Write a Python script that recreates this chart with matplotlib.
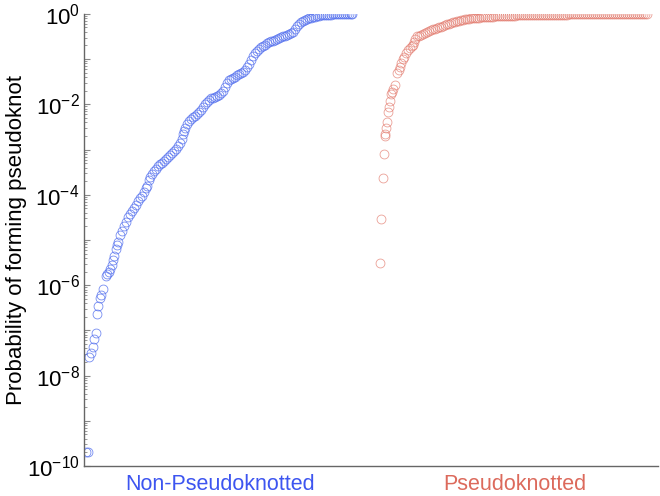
import numpy as np
import matplotlib.pyplot as plt
from matplotlib.ticker import LogLocator, FuncFormatter, NullFormatter

plt.rcParams['font.family'] = ['Liberation Sans', 'DejaVu Sans']
plt.rcParams['mathtext.fontset'] = 'custom'
plt.rcParams['mathtext.rm'] = 'Liberation Sans'

# sorted rank of each sample (x) and log10 of the probability (y)
non_pk_rank = ([86, 88, 89, 91, 93, 94, 96, 97, 98, 100, 101, 103, 106, 107, 109, 110, 112, 113, 114, 116,
                117, 118, 120, 122, 124, 126, 128, 130, 132, 134, 136, 138, 140, 142, 144, 146, 147, 149, 150, 152,
                154, 156, 158, 160, 162, 164, 166, 168, 170, 172, 174, 176, 178, 180, 182, 183, 184, 185, 187, 189]
               + list(range(191, 352, 2)) + [352])
non_pk_log = [-9.69, -9.69, -7.59, -7.50, -7.37, -7.19, -7.06, -6.64, -6.46, -6.28,
              -6.22, -6.08, -5.80, -5.75, -5.70, -5.64, -5.55, -5.45, -5.35, -5.20,
              -5.12, -5.04, -4.90, -4.80, -4.70, -4.60, -4.50, -4.42, -4.36, -4.30,
              -4.22, -4.14, -4.08, -4.02, -3.94, -3.86, -3.80, -3.68, -3.60, -3.54,
              -3.48, -3.42, -3.37, -3.33, -3.29, -3.25, -3.20, -3.16, -3.12, -3.07,
              -3.03, -2.98, -2.92, -2.85, -2.76, -2.66, -2.58, -2.52, -2.44, -2.37,
              -2.33, -2.29, -2.26, -2.22, -2.17, -2.12, -2.07, -2.00, -1.94, -1.90,
              -1.87, -1.85, -1.83, -1.81, -1.79, -1.76, -1.70, -1.62, -1.52, -1.46,
              -1.43, -1.41, -1.39, -1.36, -1.33, -1.31, -1.28, -1.24, -1.18, -1.10,
              -1.02, -0.94, -0.86, -0.81, -0.77, -0.74, -0.71, -0.68, -0.65, -0.63,
              -0.61, -0.59, -0.57, -0.55, -0.54, -0.52, -0.50, -0.48, -0.47, -0.45,
              -0.43, -0.40, -0.34, -0.27, -0.22, -0.18, -0.15, -0.13, -0.11, -0.09,
              -0.08, -0.07, -0.06, -0.05, -0.04, -0.035, -0.03, -0.025, -0.02, -0.018,
              -0.015, -0.012, -0.01, -0.008, -0.007, -0.006, -0.005, -0.004, -0.003, -0.002,
              -0.001, 0.0]

pk_rank = ([380, 381, 383, 384, 385, 385, 386, 387, 388, 389, 390, 391, 392, 393, 395, 397, 399, 400, 401, 403,
            404, 406, 408, 410, 412, 413, 414, 415, 417]
           + list(range(419, 648, 2)))
pk_log = [-5.51, -4.54, -3.63, -3.10, -2.65, -2.70, -2.52, -2.40, -2.17, -2.05,
          -1.92, -1.78, -1.72, -1.66, -1.57, -1.31, -1.24, -1.17, -1.09, -1.00,
          -0.95, -0.86, -0.80, -0.75, -0.72, -0.69, -0.62, -0.55, -0.50,
          -0.48, -0.46, -0.44, -0.42, -0.40, -0.38, -0.36, -0.34, -0.33, -0.31,
          -0.30, -0.28, -0.26, -0.25, -0.23, -0.22, -0.20, -0.19, -0.17, -0.16,
          -0.15, -0.14, -0.13, -0.12, -0.115, -0.11, -0.10, -0.095, -0.09, -0.085,
          -0.08, -0.077, -0.074, -0.071, -0.068, -0.065, -0.062, -0.06, -0.057, -0.055,
          -0.052, -0.05, -0.048, -0.046, -0.044, -0.042, -0.04, -0.038, -0.037, -0.035,
          -0.034, -0.032, -0.031, -0.03,
          -0.029, -0.028, -0.027, -0.026, -0.025, -0.024, -0.023, -0.022, -0.021, -0.020,
          -0.019, -0.019, -0.018, -0.018, -0.017, -0.016, -0.016, -0.015, -0.015, -0.014,
          -0.014, -0.013, -0.013, -0.012, -0.012, -0.011, -0.011, -0.010, -0.010, -0.009,
          -0.009, -0.008, -0.008, -0.008, -0.007, -0.007, -0.006, -0.006, -0.006, -0.005,
          -0.005, -0.005, -0.004, -0.004, -0.004, -0.003, -0.003, -0.003, -0.002, -0.002,
          -0.002, -0.002, -0.001, -0.001, -0.001, -0.001, -0.001, -0.0005, -0.0005, -0.0003,
          0.0]

assert len(non_pk_rank) == len(non_pk_log), (len(non_pk_rank), len(non_pk_log))
assert len(pk_rank) == len(pk_log), (len(pk_rank), len(pk_log))

group_names = ['Non-Pseudoknotted', 'Pseudoknotted']
group_pos = [220, 515]
group_colors = ['#3d55f0', '#dc6a5c']
marker_colors = ['#5470ee', '#e2786b']

fig = plt.figure(figsize=(6.6, 4.96), dpi=100)
ax = fig.add_axes([0.127, 0.0605, 0.870, 0.9115])

ax.plot(non_pk_rank, 10 ** np.array(non_pk_log), 'o', ms=6.4, mfc='none',
        mec=marker_colors[0], mew=0.6, alpha=0.8)
ax.plot(pk_rank, 10 ** np.array(pk_log), 'o', ms=6.4, mfc='none',
        mec=marker_colors[1], mew=0.6, alpha=0.7)

ax.set_yscale('log')
ax.set_ylim(1e-10, 1)
ax.set_xlim(84, 658)

ax.yaxis.set_major_locator(LogLocator(base=10, numticks=20))
ax.yaxis.set_major_formatter(FuncFormatter(
    lambda v, p: '$\\mathregular{10^{%d}}$' % round(np.log10(v)) if round(np.log10(v)) % 2 == 0 else ''))
ax.yaxis.set_minor_locator(LogLocator(base=10, subs=np.arange(2, 10), numticks=20))
ax.yaxis.set_minor_formatter(NullFormatter())
ax.tick_params(axis='y', which='major', direction='in', length=4, width=0.8,
               color='#888888', labelsize=16, pad=3)
ax.tick_params(axis='y', which='minor', direction='in', length=2.5, width=0.6, color='#888888')

ax.set_xticks(group_pos)
ax.set_xticklabels(group_names, fontsize=15.5)
for lab, c in zip(ax.get_xticklabels(), group_colors):
    lab.set_color(c)
ax.tick_params(axis='x', length=0, pad=6)

for s in ['top', 'right']:
    ax.spines[s].set_visible(False)
for s in ['left', 'bottom']:
    ax.spines[s].set_color('#666666')
    ax.spines[s].set_linewidth(1.0)

ax.set_ylabel('Probability of forming pseudoknot', fontsize=16, labelpad=0)

fig.savefig('out.png', dpi=100)
